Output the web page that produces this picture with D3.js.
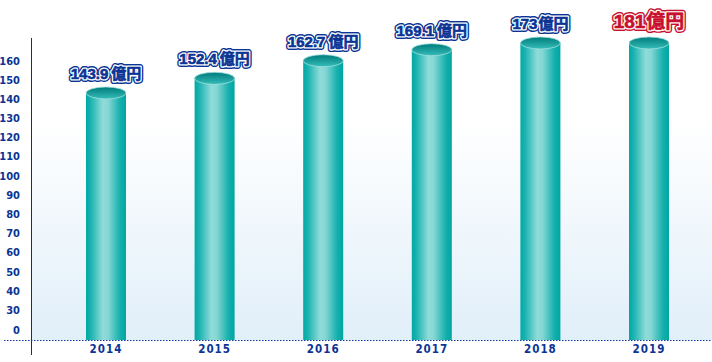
<!DOCTYPE html>
<html>
<head>
<meta charset="utf-8">
<script src="https://cdn.jsdelivr.net/npm/d3@7"></script>
<style>
  body { margin: 0; background: #fff; }
  svg { display: block; }
  .tick-label { font-family: "Liberation Sans Narrow", "DejaVu Sans Condensed", sans-serif; font-weight: bold; font-size: 11px; fill: #0b3494; }
  .year { letter-spacing: 1px; font-size: 11.5px; }
  .val { font-family: "Liberation Sans", "Noto Sans CJK JP", sans-serif; font-weight: bold; }
</style>
</head>
<body>
<svg width="712" height="362"></svg>
<script>
var years = ['2014', '2015', '2016', '2017', '2018', '2019'];
var values = [143.9, 152.4, 162.7, 169.1, 173, 181];
var tickValues = [0, 30, 40, 50, 60, 70, 80, 90, 100, 110, 120, 130, 140, 150, 160];

var svg = d3.select('svg');
var defs = svg.append('defs');

// background
var bg = defs.append('linearGradient').attr('id', 'bg').attr('x1', 0).attr('y1', 0).attr('x2', 0).attr('y2', 1);
bg.append('stop').attr('offset', '0%').attr('stop-color', '#ffffff');
bg.append('stop').attr('offset', '35%').attr('stop-color', '#ffffff');
bg.append('stop').attr('offset', '100%').attr('stop-color', '#e1eff9');

var body = defs.append('linearGradient').attr('id', 'cyl');
[['0%', '#00a8a5'], ['12%', '#1cb3b0'], ['42%', '#8fdcd9'], ['55%', '#86d7d4'], ['85%', '#15b0ad'], ['100%', '#00a5a2']]
    .forEach(function (s) { body.append('stop').attr('offset', s[0]).attr('stop-color', s[1]); });

var cap = defs.append('linearGradient').attr('id', 'cap').attr('x1', 0).attr('y1', 0).attr('x2', 0).attr('y2', 1);
cap.append('stop').attr('offset', '0%').attr('stop-color', '#007b7c');
cap.append('stop').attr('offset', '100%').attr('stop-color', '#35bdb9');

var base = 340;

svg.append('rect')
    .attr('x', 31).attr('y', 0)
    .attr('width', 681).attr('height', base)
    .attr('fill', 'url(#bg)');

// axis scale (compressed between 0 and 30)
var yAxisScale = d3.scaleLinear().domain([0, 30, 160]).range([329.5, 310, 60.5]);
// bar scale, capped at the top
var y = d3.scaleLinear().domain([0, 173]).range([base, 43]).clamp(true);
var x = d3.scalePoint().domain(years).range([106, 649]);

svg.append('g').selectAll('text')
    .data(tickValues)
    .join('text')
    .attr('class', 'tick-label')
    .attr('x', 20)
    .attr('y', function (d) { return yAxisScale(d) + 4; })
    .attr('text-anchor', 'end')
    .text(function (d) { return d; });

svg.append('line')
    .attr('x1', 31.5).attr('x2', 31.5)
    .attr('y1', 38).attr('y2', 355)
    .attr('stroke', '#0d2c8c').attr('stroke-width', 1);

var bw = 40, ry = 6;
var bars = svg.append('g').selectAll('g')
    .data(values)
    .join('g');

bars.append('rect')
    .attr('x', function (d, i) { return x(years[i]) - bw / 2; })
    .attr('y', function (d) { return y(d); })
    .attr('width', bw)
    .attr('height', function (d) { return base - y(d); })
    .attr('fill', 'url(#cyl)');

bars.append('ellipse')
    .attr('cx', function (d, i) { return x(years[i]); })
    .attr('cy', function (d) { return y(d); })
    .attr('rx', bw / 2)
    .attr('ry', ry)
    .attr('fill', 'url(#cap)')
    .attr('stroke', '#9fe0dd')
    .attr('stroke-width', 0.8);

// value labels with double outline
function label(sel, stroke, w) {
    sel.append('text')
        .attr('class', 'val')
        .attr('x', function (d, i) { return x(years[i]); })
        .attr('y', function (d, i) { return y(d) - (i == 5 ? 15 : 14); })
        .attr('text-anchor', 'middle')
        .attr('font-size', function (d, i) { return i == 5 ? 19 : 15; })
        .attr('fill', function (d, i) { return i == 5 ? '#c8102e' : '#0b3494'; })
        .attr('stroke', function (d, i) { return stroke || (i == 5 ? '#c8102e' : '#0b3494'); })
        .attr('stroke-width', w)
        .attr('stroke-linejoin', 'round')
        .text(function (d) { return d; })
        .append('tspan')
        .attr('dx', function (d, i) { return i >= 4 ? 1 : 3; })
        .text('億円');
}
label(bars, null, 6);
label(bars, '#ffffff', 3.2);
label(bars, null, 0.6);

svg.append('line')
    .attr('x1', 4).attr('x2', 712)
    .attr('y1', base + 0.5).attr('y2', base + 0.5)
    .attr('stroke', '#0b3494')
    .attr('stroke-width', 1.2)
    .attr('stroke-dasharray', '1.5,1.5');

svg.append('g').selectAll('text')
    .data(years)
    .join('text')
    .attr('class', 'tick-label year')
    .attr('x', function (d) { return x(d); })
    .attr('y', 353)
    .attr('text-anchor', 'middle')
    .text(function (d) { return d; });
</script>
</body>
</html>
